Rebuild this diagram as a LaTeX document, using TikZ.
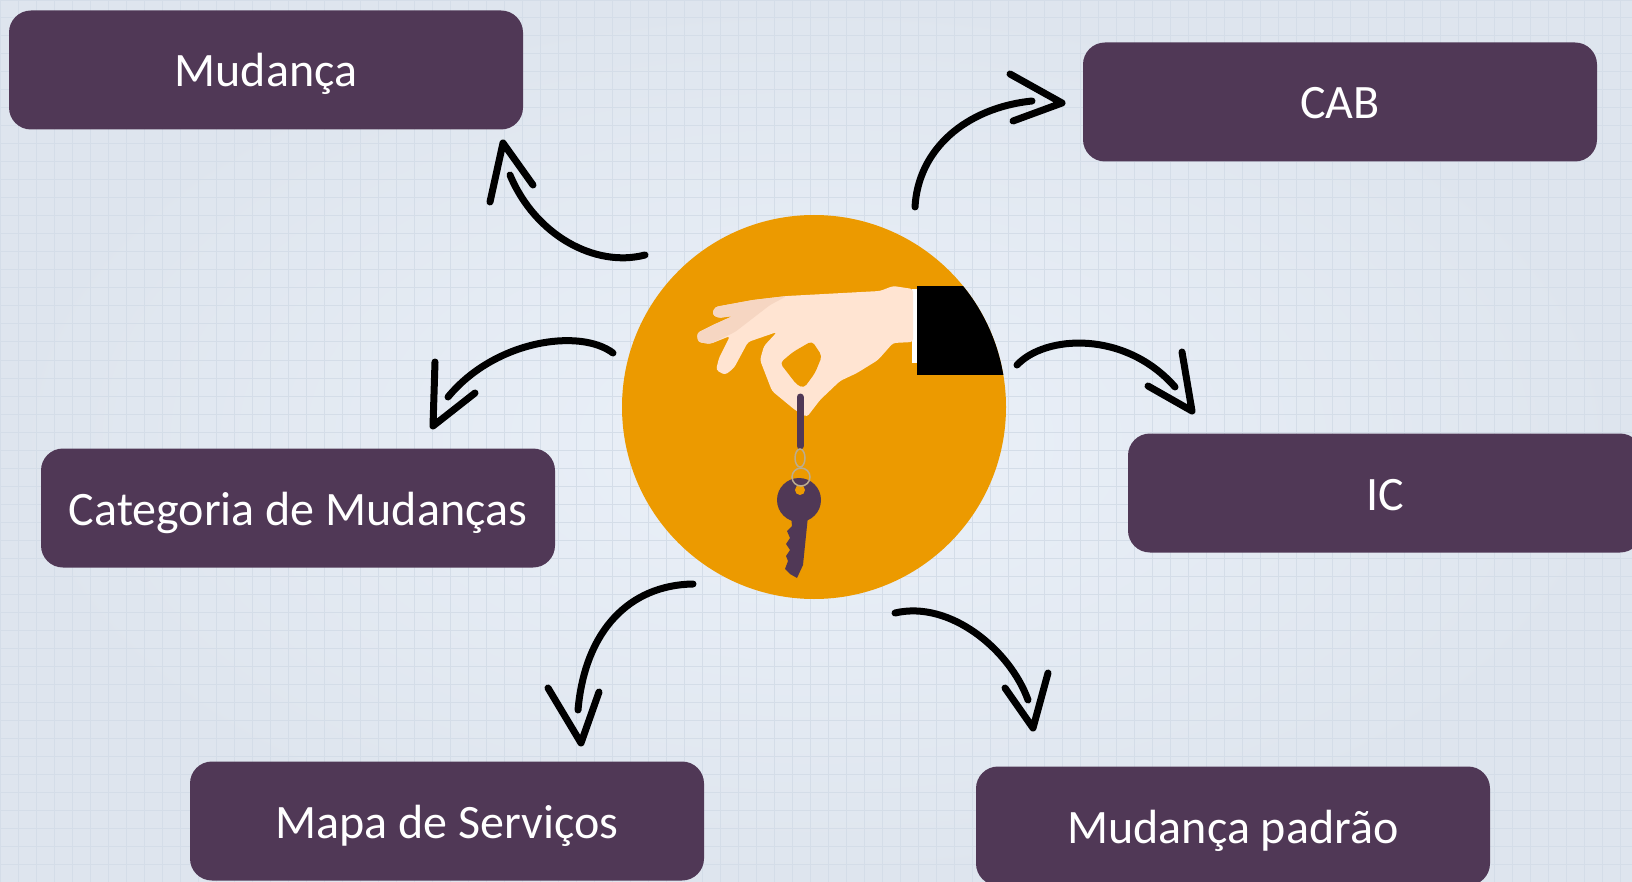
\documentclass[tikz,border=0pt]{standalone}
\usepackage{fontspec}
\setmainfont{Carlito}
\definecolor{plum}{RGB}{80,56,86}
\definecolor{amber}{RGB}{236,154,0}
\definecolor{paperin}{RGB}{235,241,249}
\definecolor{paperout}{RGB}{222,229,238}
\definecolor{gridblue}{RGB}{212,221,232}
\definecolor{skin}{RGB}{255,228,210}
\definecolor{skinshade}{RGB}{246,214,194}
\definecolor{ringgray}{RGB}{188,172,142}
\tikzstyle{topic}=[rectangle, rounded corners=22pt, fill=plum, text=white, inner sep=0pt,
  minimum width=514pt, minimum height=119pt, text height=40pt, text depth=6pt,
  font=\fontsize{48}{56}\selectfont]
\tikzstyle{sketch}=[draw=black, line width=7pt, line cap=round, line join=round]
\newcommand{\topic}{\node[topic]}

\begin{document}
\begin{tikzpicture}[x=1pt, y=-1pt]
\useasboundingbox (0,0) rectangle (1632,882);
% squared paper
\shade[inner color=paperin, outer color=paperout] (0,0) rectangle (1632,882);
\draw[gridblue, line width=1pt, xstep=18pt, ystep=18pt] (0,882) grid (1632,0);

% the disc with the hand and the key
\node[circle, fill=amber, minimum size=384pt, inner sep=0pt] (hub) at (814,407) {};
\begin{scope}
\clip (hub.center) circle (192pt);
\fill[black] (917,286) rectangle (1012,375);
\end{scope}
\fill[white] (912,289) rectangle (917,363);
\fill[skin, rounded corners=3pt]
  (913,289) -- (893,286) -- (880,291) -- (787,296) -- (753,300) -- (715,307)
  -- (712,314) -- (718,318) -- (733,316) -- (713,325) -- (697,333) -- (698,342)
  -- (710,344) -- (730,336) -- (719,358) -- (716,370) -- (725,375) -- (734,368)
  -- (748,342) -- (777,332) -- (764,346) -- (760,360) -- (772,391) -- (795,410)
  -- (807,417) -- (820,400) -- (840,381) -- (857,373) -- (878,360) -- (893,343)
  -- (913,342) -- cycle;
\fill[skinshade, rounded corners=3pt]
  (787,296) -- (753,300) -- (715,307) -- (712,314) -- (718,318) -- (733,316)
  -- (713,325) -- (697,333) -- (698,342) -- (710,344) -- (735,332) -- (770,305) -- cycle;
\fill[amber, rounded corners=4pt]
  (780,363) -- (793,352) -- (812,341) -- (822,356) -- (815,373) -- (804,388) -- (797,385) -- cycle;
% key ring and key
\draw[plum, line width=7pt, line cap=round] (800,397) -- (800,446);
\draw[ringgray, line width=1.5pt] (800,458) ellipse (5pt and 9pt);
\fill[plum] (799,500) circle (22pt);
\fill[amber] (800,490) circle (5pt);
\draw[ringgray, line width=1.5pt] (801,477) circle (9pt);
\fill[plum] (791,516) -- (808,516) -- (803,565) -- (797,578) -- (790,574) -- (785,569)
  -- (788,561) -- (786,556) -- (790,550) -- (786,544) -- (790,538) -- (787,531) -- (792,526) -- cycle;

% topics
\topic (change) at (266,70) {Mudança};
\topic (cab) at (1340,102) {CAB};
\topic (category) at (298,508) {Categoria de Mudanças};
\topic (ci) at (1385,493) {IC};
\topic (svcmap) at (447,821) {Mapa de Serviços};
\topic (stdchange) at (1233,826) {Mudança padrão};

% hand drawn arrows
\coordinate (chg-a) at (645,255);   \coordinate (chg-b) at (510,175);
\coordinate (chg-l) at (490,202);   \coordinate (chg-t) at (503,143);   \coordinate (chg-r) at (533,185);
\coordinate (cab-a) at (915,207);   \coordinate (cab-b) at (1032,101);
\coordinate (cab-l) at (1010,74);   \coordinate (cab-t) at (1062,103);  \coordinate (cab-r) at (1013,121);
\coordinate (cat-a) at (613,353);   \coordinate (cat-b) at (448,397);
\coordinate (cat-l) at (435,362);   \coordinate (cat-t) at (433,426);   \coordinate (cat-r) at (475,393);
\coordinate (ci-a) at (1017,365);   \coordinate (ci-b) at (1175,387);
\coordinate (ci-l) at (1182,352);   \coordinate (ci-t) at (1192,411);   \coordinate (ci-r) at (1148,386);
\coordinate (map-a) at (693,584);   \coordinate (map-b) at (578,710);
\coordinate (map-l) at (548,688);   \coordinate (map-t) at (581,743);   \coordinate (map-r) at (599,692);
\coordinate (std-a) at (895,613);   \coordinate (std-b) at (1028,700);
\coordinate (std-l) at (1005,688);  \coordinate (std-t) at (1033,728);  \coordinate (std-r) at (1048,673);

\draw[sketch] (chg-a) .. controls (595,268) and (535,235) .. (chg-b);
\draw[sketch] (chg-l) -- (chg-t) -- (chg-r);
\draw[sketch] (cab-a) .. controls (918,150) and (965,108) .. (cab-b);
\draw[sketch] (cab-l) -- (cab-t) -- (cab-r);
\draw[sketch] (cat-a) .. controls (580,328) and (495,340) .. (cat-b);
\draw[sketch] (cat-l) -- (cat-t) -- (cat-r);
\draw[sketch] (ci-a) .. controls (1045,335) and (1125,330) .. (ci-b);
\draw[sketch] (ci-l) -- (ci-t) -- (ci-r);
\draw[sketch] (map-a) .. controls (630,585) and (585,630) .. (map-b);
\draw[sketch] (map-l) -- (map-t) -- (map-r);
\draw[sketch] (std-a) .. controls (950,600) and (1010,650) .. (std-b);
\draw[sketch] (std-l) -- (std-t) -- (std-r);
\end{tikzpicture}
\end{document}
